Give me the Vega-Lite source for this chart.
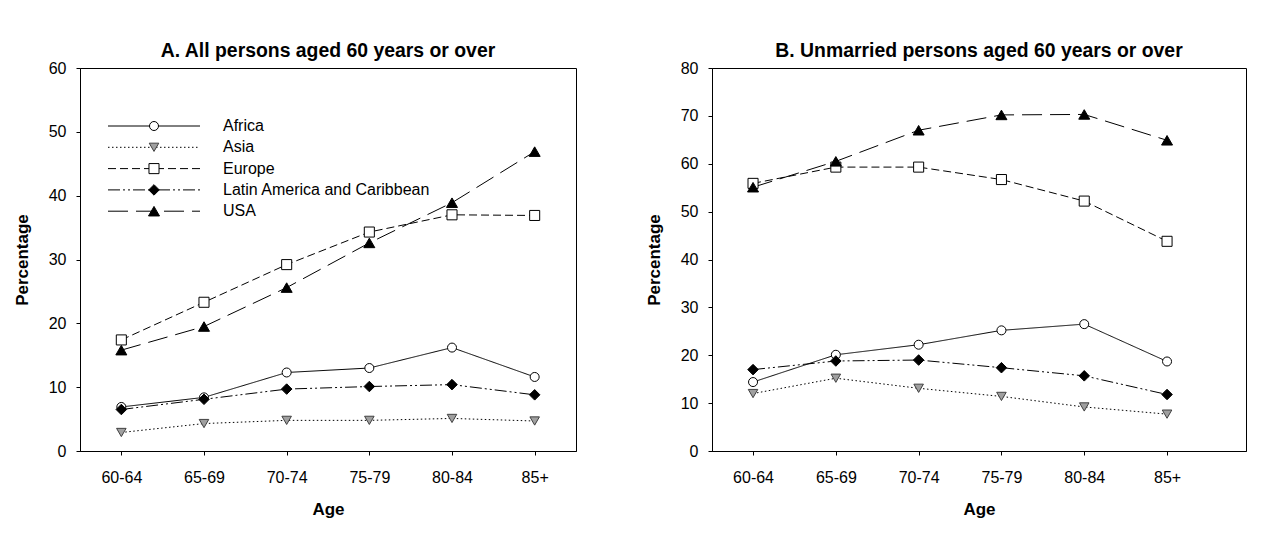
{
  "$schema": "https://vega.github.io/schema/vega-lite/v6.json",
  "autosize": {"type": "pad"},
  "padding": {"left": 12, "top": 40, "right": 5, "bottom": 20},
  "background": "white",
  "config": {
    "font": "Liberation Sans",
    "view": {"stroke": "black", "strokeWidth": 1},
    "axis": {"grid": false, "domainColor": "black", "domainWidth": 1, "tickColor": "black", "tickSize": 4, "labelColor": "black", "labelFontSize": 16, "titleFontSize": 17, "titleFontWeight": "bold", "titleColor": "black", "labelFont": "Liberation Sans", "titleFont": "Liberation Sans"},
    "axisX": {"labelPadding": 14, "titlePadding": 16, "labelAngle": 0},
    "axisY": {"labelPadding": 10, "titlePadding": 17},
    "title": {"fontSize": 19.4, "fontWeight": "bold", "color": "black", "anchor": "middle", "offset": -1.3, "font": "Liberation Sans"},
    "legend": {"labelFont": "Liberation Sans", "labelFontSize": 16, "labelColor": "black"}
  },
  "datasets": {
    "A": [
      {"region": "Africa", "age": "60-64", "pct": 6.9},
      {"region": "Africa", "age": "65-69", "pct": 8.4},
      {"region": "Africa", "age": "70-74", "pct": 12.3},
      {"region": "Africa", "age": "75-79", "pct": 13.0},
      {"region": "Africa", "age": "80-84", "pct": 16.2},
      {"region": "Africa", "age": "85+", "pct": 11.6},
      {"region": "Asia", "age": "60-64", "pct": 2.9},
      {"region": "Asia", "age": "65-69", "pct": 4.3},
      {"region": "Asia", "age": "70-74", "pct": 4.8},
      {"region": "Asia", "age": "75-79", "pct": 4.8},
      {"region": "Asia", "age": "80-84", "pct": 5.1},
      {"region": "Asia", "age": "85+", "pct": 4.7},
      {"region": "Europe", "age": "60-64", "pct": 17.4},
      {"region": "Europe", "age": "65-69", "pct": 23.3},
      {"region": "Europe", "age": "70-74", "pct": 29.2},
      {"region": "Europe", "age": "75-79", "pct": 34.3},
      {"region": "Europe", "age": "80-84", "pct": 37.0},
      {"region": "Europe", "age": "85+", "pct": 36.9},
      {"region": "Latin America and Caribbean", "age": "60-64", "pct": 6.5},
      {"region": "Latin America and Caribbean", "age": "65-69", "pct": 8.1},
      {"region": "Latin America and Caribbean", "age": "70-74", "pct": 9.7},
      {"region": "Latin America and Caribbean", "age": "75-79", "pct": 10.1},
      {"region": "Latin America and Caribbean", "age": "80-84", "pct": 10.4},
      {"region": "Latin America and Caribbean", "age": "85+", "pct": 8.8},
      {"region": "USA", "age": "60-64", "pct": 15.8},
      {"region": "USA", "age": "65-69", "pct": 19.5},
      {"region": "USA", "age": "70-74", "pct": 25.6},
      {"region": "USA", "age": "75-79", "pct": 32.6},
      {"region": "USA", "age": "80-84", "pct": 38.9},
      {"region": "USA", "age": "85+", "pct": 46.9}
    ],
    "B": [
      {"region": "Africa", "age": "60-64", "pct": 14.4},
      {"region": "Africa", "age": "65-69", "pct": 20.1},
      {"region": "Africa", "age": "70-74", "pct": 22.2},
      {"region": "Africa", "age": "75-79", "pct": 25.2},
      {"region": "Africa", "age": "80-84", "pct": 26.5},
      {"region": "Africa", "age": "85+", "pct": 18.7},
      {"region": "Asia", "age": "60-64", "pct": 12.0},
      {"region": "Asia", "age": "65-69", "pct": 15.2},
      {"region": "Asia", "age": "70-74", "pct": 13.1},
      {"region": "Asia", "age": "75-79", "pct": 11.4},
      {"region": "Asia", "age": "80-84", "pct": 9.2},
      {"region": "Asia", "age": "85+", "pct": 7.7},
      {"region": "Europe", "age": "60-64", "pct": 55.9},
      {"region": "Europe", "age": "65-69", "pct": 59.3},
      {"region": "Europe", "age": "70-74", "pct": 59.3},
      {"region": "Europe", "age": "75-79", "pct": 56.7},
      {"region": "Europe", "age": "80-84", "pct": 52.2},
      {"region": "Europe", "age": "85+", "pct": 43.8},
      {"region": "Latin America and Caribbean", "age": "60-64", "pct": 17.0},
      {"region": "Latin America and Caribbean", "age": "65-69", "pct": 18.8},
      {"region": "Latin America and Caribbean", "age": "70-74", "pct": 19.0},
      {"region": "Latin America and Caribbean", "age": "75-79", "pct": 17.4},
      {"region": "Latin America and Caribbean", "age": "80-84", "pct": 15.7},
      {"region": "Latin America and Caribbean", "age": "85+", "pct": 11.8},
      {"region": "USA", "age": "60-64", "pct": 55.1},
      {"region": "USA", "age": "65-69", "pct": 60.5},
      {"region": "USA", "age": "70-74", "pct": 67.0},
      {"region": "USA", "age": "75-79", "pct": 70.2},
      {"region": "USA", "age": "80-84", "pct": 70.3},
      {"region": "USA", "age": "85+", "pct": 64.9}
    ]
  },
  "spacing": 67,
  "resolve": {"legend": {"shape": "independent", "fill": "independent", "stroke": "independent", "strokeDash": "independent", "size": "independent"}},
  "hconcat": [
    {
      "width": 496,
      "height": 383,
      "title": "A. All persons aged 60 years or over",
      "data": {"name": "A"},
      "encoding": {
        "x": {"field": "age", "type": "ordinal", "scale": {"type": "point", "padding": 0.5, "domain": ["60-64", "65-69", "70-74", "75-79", "80-84", "85+"]}, "axis": {"title": "Age"}},
        "y": {"field": "pct", "type": "quantitative", "scale": {"domain": [0, 60]}, "axis": {"title": "Percentage", "values": [0, 10, 20, 30, 40, 50, 60]}}
      },
      "layer": [
        {
          "mark": {"type": "line", "color": "black", "strokeWidth": 1},
          "encoding": {
            "strokeDash": {"field": "region", "type": "nominal",
              "scale": {"range": [[1, 0], [1.5, 2.5], [8, 4], [12, 3, 2, 3, 2, 3], [20, 8]]},
              "legend": {"orient": "none", "legendX": 66, "legendY": 50, "title": null, "symbolType": "M-11.5,0H11.5", "symbolSize": 64, "symbolStrokeWidth": 1, "symbolStrokeColor": "black", "labelOffset": 61, "labelLimit": 400, "rowPadding": 5.3, "padding": 0}}
          }
        },
        {
          "mark": {"type": "point", "filled": true, "opacity": 1, "strokeWidth": 1},
          "encoding": {
            "shape": {"field": "region", "type": "nominal",
              "scale": {"domain": ["Africa", "Asia", "Europe", "Latin America and Caribbean", "USA"], "range": ["circle", "triangle-down", "square", "diamond", "triangle-up"]},
              "legend": {"orient": "top-left", "offset": 50, "title": null, "symbolStrokeWidth": 1, "symbolOffset": 16, "labelOffset": 61, "labelLimit": 400, "rowPadding": 5.3, "padding": 0, "labelOpacity": 0}},
            "fill": {"field": "region", "type": "nominal",
              "scale": {"domain": ["Africa", "Asia", "Europe", "Latin America and Caribbean", "USA"], "range": ["white", "#a0a0a0", "white", "black", "black"]},
              "legend": {"orient": "top-left", "offset": 50, "title": null, "symbolStrokeWidth": 1, "symbolOffset": 16, "labelOffset": 61, "labelLimit": 400, "rowPadding": 5.3, "padding": 0, "labelOpacity": 0}},
            "stroke": {"field": "region", "type": "nominal",
              "scale": {"domain": ["Africa", "Asia", "Europe", "Latin America and Caribbean", "USA"], "range": ["black", "#404040", "black", "black", "black"]},
              "legend": {"orient": "top-left", "offset": 50, "title": null, "symbolStrokeWidth": 1, "symbolOffset": 16, "labelOffset": 61, "labelLimit": 400, "rowPadding": 5.3, "padding": 0, "labelOpacity": 0}},
            "size": {"field": "region", "type": "nominal",
              "scale": {"domain": ["Africa", "Asia", "Europe", "Latin America and Caribbean", "USA"], "range": [81, 121, 81, 110, 121]},
              "legend": {"orient": "top-left", "offset": 50, "title": null, "symbolStrokeWidth": 1, "symbolOffset": 16, "labelOffset": 61, "labelLimit": 400, "rowPadding": 5.3, "padding": 0, "labelOpacity": 0}}
          }
        }
      ]
    },
    {
      "width": 534,
      "height": 383,
      "title": "B.  Unmarried persons aged 60 years or over",
      "data": {"name": "B"},
      "encoding": {
        "x": {"field": "age", "type": "ordinal", "scale": {"type": "point", "padding": 0.7246, "align": 0.342, "domain": ["60-64", "65-69", "70-74", "75-79", "80-84", "85+"]}, "axis": {"title": "Age"}},
        "y": {"field": "pct", "type": "quantitative", "scale": {"domain": [0, 80]}, "axis": {"title": "Percentage", "values": [0, 10, 20, 30, 40, 50, 60, 70, 80]}}
      },
      "layer": [
        {
          "mark": {"type": "line", "color": "black", "strokeWidth": 1},
          "encoding": {
            "strokeDash": {"field": "region", "type": "nominal",
              "scale": {"range": [[1, 0], [1.5, 2.5], [8, 4], [12, 3, 2, 3, 2, 3], [20, 8]]},
              "legend": null}
          }
        },
        {
          "mark": {"type": "point", "filled": true, "opacity": 1, "strokeWidth": 1},
          "encoding": {
            "shape": {"field": "region", "type": "nominal",
              "scale": {"domain": ["Africa", "Asia", "Europe", "Latin America and Caribbean", "USA"], "range": ["circle", "triangle-down", "square", "diamond", "triangle-up"]},
              "legend": null},
            "fill": {"field": "region", "type": "nominal",
              "scale": {"domain": ["Africa", "Asia", "Europe", "Latin America and Caribbean", "USA"], "range": ["white", "#a0a0a0", "white", "black", "black"]},
              "legend": null},
            "stroke": {"field": "region", "type": "nominal",
              "scale": {"domain": ["Africa", "Asia", "Europe", "Latin America and Caribbean", "USA"], "range": ["black", "#404040", "black", "black", "black"]},
              "legend": null},
            "size": {"field": "region", "type": "nominal",
              "scale": {"domain": ["Africa", "Asia", "Europe", "Latin America and Caribbean", "USA"], "range": [81, 121, 81, 110, 121]}, "legend": null}
          }
        }
      ]
    }
  ]
}
